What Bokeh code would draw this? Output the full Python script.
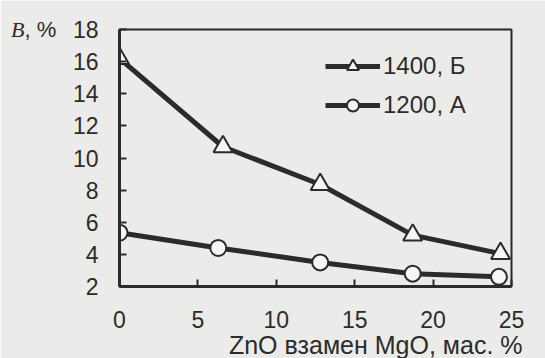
from bokeh.plotting import figure
from bokeh.models import ColumnDataSource, Range1d, Label, Legend, LegendItem, FixedTicker, Title
from bokeh.embed import file_html
from bokeh.resources import INLINE

# data
zno_b = [0, 6.6, 12.8, 18.7, 24.3]
b1400 = [16.2, 10.7, 8.35, 5.2, 4.05]
zno_a = [0, 6.3, 12.8, 18.7, 24.2]
b1200 = [5.35, 4.4, 3.5, 2.8, 2.6]
x_ticks = [0, 5, 10, 15, 20, 25]
y_ticks = [2, 4, 6, 8, 10, 12, 14, 16, 18]
series_names = ["1400, Б", "1200, А"]

BG = "#ebebe9"
INK = "#2b2b2b"
FONT = "Liberation Sans Narrow, Liberation Sans"

p = figure(width=545, height=358, output_backend="svg", toolbar_location=None,
           x_range=Range1d(0, 25), y_range=Range1d(2, 18),
           min_border_left=119, min_border_right=34, min_border_top=29, min_border_bottom=72)
p.background_fill_color = BG
p.border_fill_color = BG
p.outline_line_color = INK
p.outline_line_width = 2
p.xgrid.visible = False
p.ygrid.visible = False

for ax in (p.xaxis[0], p.yaxis[0]):
    ax.axis_line_color = INK
    ax.axis_line_width = 3
    ax.major_tick_in = 7
    ax.major_tick_out = 0
    ax.major_tick_line_color = INK
    ax.major_tick_line_width = 2
    ax.minor_tick_line_color = None
    ax.major_label_text_font = FONT
    ax.major_label_text_font_size = "23px"
    ax.major_label_text_color = INK
p.xaxis.ticker = FixedTicker(ticks=x_ticks)
p.yaxis.ticker = FixedTicker(ticks=y_ticks)
p.xaxis.major_label_standoff = 24
p.yaxis.major_label_standoff = 21

src_b = ColumnDataSource(dict(x=zno_b, y=b1400))
src_a = ColumnDataSource(dict(x=zno_a, y=b1200))

lb = p.line("x", "y", source=src_b, line_color=INK, line_width=5)
mb = p.scatter("x", "y", source=src_b, marker="triangle", size=19, line_color=INK,
               line_width=2, fill_color="#f6f6f4")
la = p.line("x", "y", source=src_a, line_color=INK, line_width=5)
ma = p.scatter("x", "y", source=src_a, marker="circle", size=16, line_color=INK,
               line_width=2, fill_color="#f6f6f4")

legend = Legend(items=[LegendItem(label=series_names[0], renderers=[lb, mb]),
                       LegendItem(label=series_names[1], renderers=[la, ma])],
                location=(206, 166), orientation="vertical")
legend.background_fill_alpha = 0
legend.border_line_color = None
legend.padding = 0
legend.margin = 0
legend.spacing = 9
legend.glyph_width = 55
legend.glyph_height = 30
legend.label_height = 30
legend.label_standoff = 3
legend.label_text_font = FONT
legend.label_text_font_size = "24px"
legend.label_text_color = INK
p.add_layout(legend, "center")

p.add_layout(Title(text="ZnO взамен MgO, мас. %", align="right", offset=-11,
                   text_font=FONT, text_font_size="25px", text_font_style="normal",
                   text_color=INK, standoff=-4), "below")
p.add_layout(Label(x=0, y=18, x_offset=-95, text="B",
                   text_align="right", text_baseline="middle", text_font="Liberation Serif",
                   text_font_style="italic", text_font_size="22px", text_color=INK), "left")
p.add_layout(Label(x=0, y=18, x_offset=-95, text=", %",
                   text_align="left", text_baseline="middle", text_font=FONT,
                   text_font_size="22px", text_color=INK), "left")

html = file_html(p, INLINE)
html = html.replace("<body>", '<body style="background:%s">' % BG, 1)
open("out.html", "w").write(html)
